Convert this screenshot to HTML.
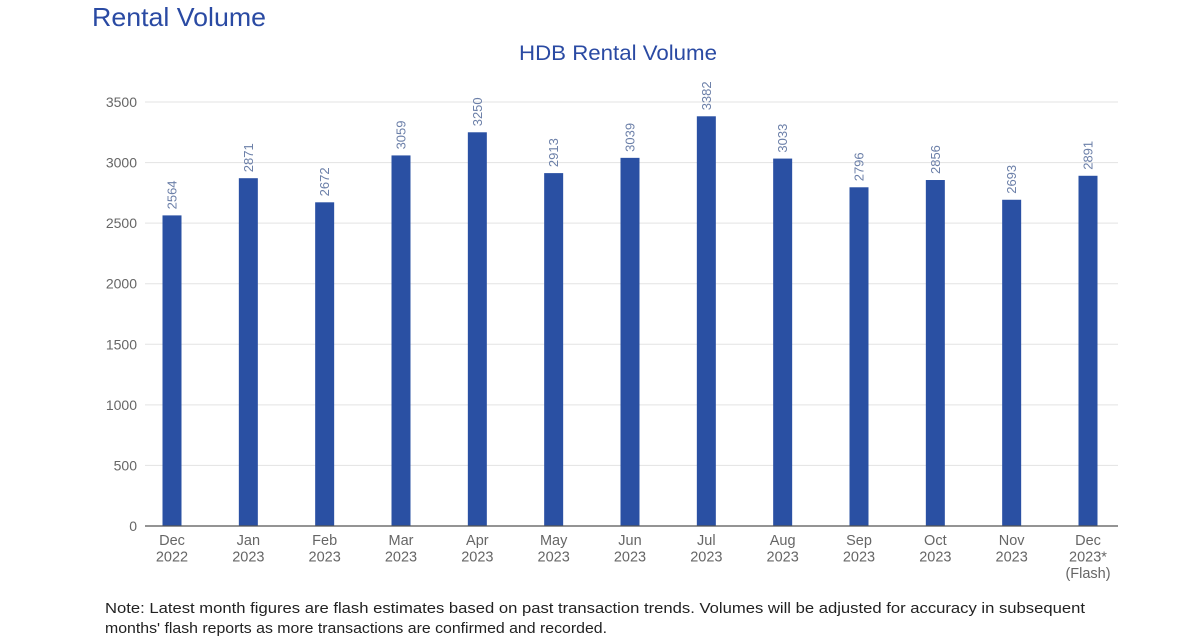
<!DOCTYPE html>
<html><head><meta charset="utf-8"><style>
body{margin:0;background:#fff;width:1200px;height:639px;overflow:hidden;font-family:"Liberation Sans",sans-serif}
</style></head><body>
<svg width="1200" height="639" xmlns="http://www.w3.org/2000/svg">
<text x="92" y="26" font-size="26" textLength="174" lengthAdjust="spacingAndGlyphs" fill="#2a4aa3">Rental Volume</text>
<text x="519" y="60" font-size="21" textLength="198" lengthAdjust="spacingAndGlyphs" fill="#2a4aa3">HDB Rental Volume</text>
<g id="grid"></g><g id="bars"></g><g id="xl"></g>
<line x1="145" y1="526" x2="1118" y2="526" stroke="#555" stroke-width="1.2"/>
<text x="105" y="613" font-size="15" textLength="980" lengthAdjust="spacingAndGlyphs" fill="#222">Note: Latest month figures are flash estimates based on past transaction trends. Volumes will be adjusted for accuracy in subsequent</text>
<text x="105" y="633" font-size="15" textLength="502" lengthAdjust="spacingAndGlyphs" fill="#222">months' flash reports as more transactions are confirmed and recorded.</text>
</svg>
<script>
const categories=[["Dec","2022"],["Jan","2023"],["Feb","2023"],["Mar","2023"],["Apr","2023"],["May","2023"],["Jun","2023"],["Jul","2023"],["Aug","2023"],["Sep","2023"],["Oct","2023"],["Nov","2023"],["Dec","2023*","(Flash)"]];
const values=[2564,2871,2672,3059,3250,2913,3039,3382,3033,2796,2856,2693,2891];
const yTicks=[0,500,1000,1500,2000,2500,3000,3500];
const NS="http://www.w3.org/2000/svg";
const x0=145,x1=1118,y0=526,yTop=102,yMax=3500;
const y=v=>y0-(v/yMax)*(y0-yTop);
const first=172,last=1088;
const step=(last-first)/(categories.length-1);
const xc=i=>first+step*i;
function mk(t,a,p){const e=document.createElementNS(NS,t);for(const k in a)e.setAttribute(k,a[k]);p.appendChild(e);return e;}
const grid=document.getElementById('grid'),bars=document.getElementById('bars'),xl=document.getElementById('xl');
yTicks.forEach(v=>{
 if(v>0){const l=mk('line',{x1:x0,x2:x1,y1:y(v),y2:y(v),stroke:'#e3e3e3','stroke-width':1},grid);
 
 }
 const t=mk('text',{x:137,y:y(v)+5,'font-size':14,fill:'#666','text-anchor':'end'},grid);
 t.textContent=v;
 
 
});
values.forEach((v,i)=>{
 const bw=19;
 const r=mk('rect',{x:xc(i)-bw/2,y:y(v),width:bw,height:y0-y(v),fill:'#2a50a3'},bars);
 
 
 const lx=xc(i)+4.5,ly=y(v)-6;
 const t=mk('text',{x:lx,y:ly,'font-size':13,fill:'#6b7fa8',transform:`rotate(-90 ${lx} ${ly})`},bars);
 t.textContent=v;
 
 
 categories[i].forEach((s,j)=>{
  const c=mk('text',{x:xc(i),y:545+j*16.5,'font-size':14.5,fill:'#666','text-anchor':'middle'},xl);
  c.textContent=s;
  
  
 });
});
</script>
</body></html>
